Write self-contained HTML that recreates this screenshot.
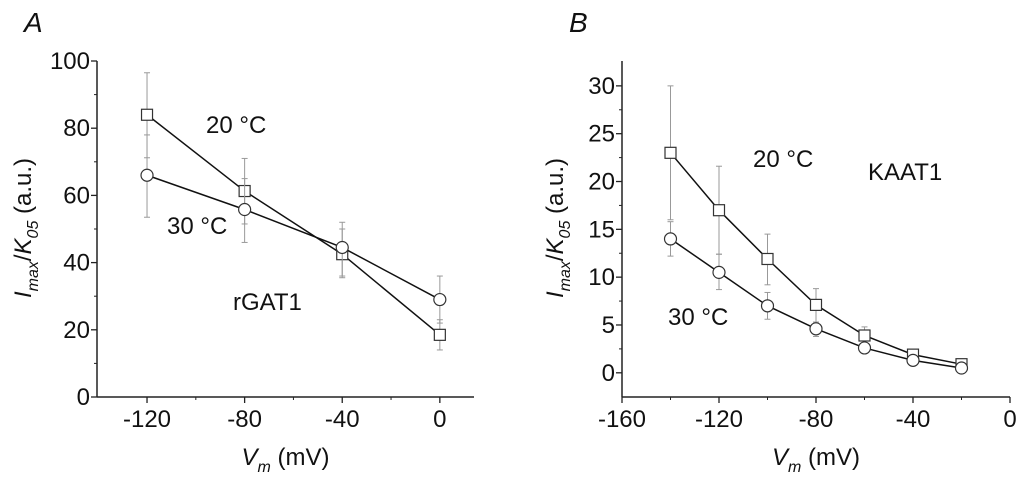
<!DOCTYPE html>
<html><head><meta charset="utf-8"><style>
body{margin:0;background:#fff;width:1024px;height:480px;overflow:hidden}
svg{font-family:"Liberation Sans",sans-serif}
</style></head><body>
<svg id="c" width="1024" height="480"></svg>
<script>
const aVolt=[-120,-80,-40,0];
const a20=[84,61.3,42.5,18.5];
const a20hi=[96.5,71,50,23];
const a20lo=[71.2,51.5,35.5,14];
const a30=[66,55.8,44.5,29];
const a30hi=[78,65,52,36];
const a30lo=[53.5,46,36,22];
const aXTicks=[-120,-80,-40,0];
const aYTicks=[0,20,40,60,80,100];
const bVolt=[-140,-120,-100,-80,-60,-40,-20];
const b20=[23,17,11.9,7.1,3.9,1.9,0.9];
const b20hi=[30,21.6,14.5,8.8,4.8,2.3,1.2];
const b20lo=[16,12.4,9.2,5.3,3.0,1.5,0.6];
const b30=[14,10.5,7,4.6,2.6,1.3,0.5];
const b30hi=[15.8,12.4,8.4,5.3,3.0,1.6,0.8];
const b30lo=[12.2,8.7,5.6,3.8,2.2,1.0,0.3];
const bXTicks=[-160,-120,-80,-40,0];
const bYTicks=[0,5,10,15,20,25,30];

const svg=document.getElementById('c');
const NS='http://www.w3.org/2000/svg';
function mk(t,a,txt){const e=document.createElementNS(NS,t);for(const k in a)e.setAttribute(k,a[k]);if(txt!==undefined)e.textContent=txt;svg.appendChild(e);return e;}

function panel(p){
  const X=v=>p.x0+(v-p.xmin)/(p.xmax-p.xmin)*(p.x1-p.x0);
  const Y=v=>p.y0-(v-p.ymin)/(p.ymax-p.ymin)*(p.y0-p.y1);
  let e;
  e=mk('line',{x1:p.x0,y1:p.y0,x2:p.x1,y2:p.y0,stroke:'#222','stroke-width':1.5});
  
  
  e=mk('line',{x1:p.x0,y1:p.y0,x2:p.x0,y2:p.y1,stroke:'#222','stroke-width':1.5});
  
  
  p.xt.forEach((v,i)=>{
    mk('line',{x1:X(v),y1:p.y0,x2:X(v),y2:p.y0+6,stroke:'#222','stroke-width':1.3});
    if(i<p.xt.length-1){const m=(v+p.xt[i+1])/2;mk('line',{x1:X(m),y1:p.y0,x2:X(m),y2:p.y0+3,stroke:'#222'});}
    e=mk('text',{x:X(v),y:p.y0+30,'font-size':24,'text-anchor':'middle',fill:'#111'},String(v));
    
    
  });
  p.yt.forEach((v,i)=>{
    mk('line',{x1:p.x0-6,y1:Y(v),x2:p.x0,y2:Y(v),stroke:'#222','stroke-width':1.3});
    if(i<p.yt.length-1){const m=(v+p.yt[i+1])/2;mk('line',{x1:p.x0-3,y1:Y(m),x2:p.x0,y2:Y(m),stroke:'#222'});}
    e=mk('text',{x:p.x0-7,y:Y(v)+8,'font-size':24,'text-anchor':'end',fill:'#111'},String(v));
    
    
  });
  p.series.forEach(s=>{
    s.vals.forEach((v,i)=>{
      const x=X(p.volt[i]);
      e=mk('line',{x1:x,y1:Y(s.hi[i]),x2:x,y2:Y(s.lo[i]),stroke:'#999','stroke-width':1});
      
      
      mk('line',{x1:x-3,y1:Y(s.hi[i]),x2:x+3,y2:Y(s.hi[i]),stroke:'#999'});
      mk('line',{x1:x-3,y1:Y(s.lo[i]),x2:x+3,y2:Y(s.lo[i]),stroke:'#999'});
    });
    const pts=s.vals.map((v,i)=>X(p.volt[i])+','+Y(v)).join(' ');
    e=mk('polyline',{points:pts,fill:'none',stroke:'#111','stroke-width':1.5});
    
    
    s.vals.forEach((v,i)=>{
      const x=X(p.volt[i]),y=Y(v);
      if(s.shape==='sq') e=mk('rect',{x:x-5.5,y:y-5.5,width:11,height:11,fill:'#fff',stroke:'#333','stroke-width':1.2});
      else e=mk('circle',{cx:x,cy:y,r:6,fill:'#fff',stroke:'#333','stroke-width':1.2});
      
      
    });
  });
  e=mk('text',{x:(p.x0+p.x1)/2,y:465,'font-size':24,'text-anchor':'middle',fill:'#111'});
  e.innerHTML='<tspan font-style="italic">V</tspan><tspan font-size="16" font-style="italic" dy="7">m</tspan><tspan dy="-7"> (mV)</tspan>';
  
  
  e=mk('text',{x:0,y:0,'font-size':24,'text-anchor':'middle',fill:'#111',transform:`translate(${p.ytx},228) rotate(-90)`});
  e.innerHTML='<tspan font-style="italic">I</tspan><tspan font-size="16" font-style="italic" dy="7">max</tspan><tspan dy="-7">/</tspan><tspan font-style="italic">K</tspan><tspan font-size="16" font-style="italic" dy="7">05</tspan><tspan dy="-7"> (a.u.)</tspan>';
  
  
}
panel({id:'a',x0:97,x1:474,y0:397,y1:61,xmin:-140.5,xmax:14,ymin:0,ymax:100,xt:aXTicks,yt:aYTicks,volt:aVolt,ytx:31,
 series:[{name:'20c',shape:'sq',vals:a20,hi:a20hi,lo:a20lo},{name:'30c',shape:'ci',vals:a30,hi:a30hi,lo:a30lo}]});
panel({id:'b',x0:622,x1:1010,y0:397,y1:61,xmin:-160,xmax:0,ymin:-2.53,ymax:32.6,xt:bXTicks,yt:bYTicks,volt:bVolt,ytx:563,
 series:[{name:'20c',shape:'sq',vals:b20,hi:b20hi,lo:b20lo},{name:'30c',shape:'ci',vals:b30,hi:b30hi,lo:b30lo}]});
let t;
t=mk('text',{x:24,y:32,'font-size':28,'font-style':'italic',fill:'#111'},'A');


t=mk('text',{x:569,y:32,'font-size':28,'font-style':'italic',fill:'#111'},'B');


[['206','133','20 °C','a-label-20c'],['167','234','30 °C','a-label-30c'],['233','310','rGAT1','a-label-rgat1'],
 ['753','167','20 °C','b-label-20c'],['868','180','KAAT1','b-label-kaat1'],['668','325','30 °C','b-label-30c']].forEach(r=>{
  const e=mk('text',{x:r[0],y:r[1],'font-size':24,fill:'#111'},r[2]);
  
  
});
</script>
</body></html>
